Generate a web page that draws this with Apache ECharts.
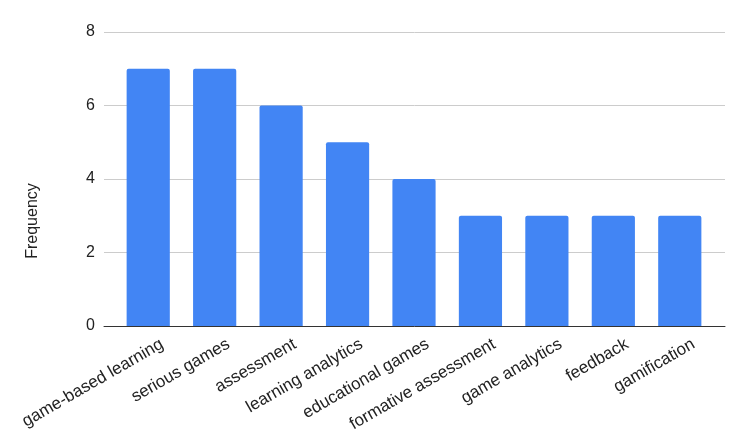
<!DOCTYPE html>
<html>
<head>
<meta charset="utf-8">
<script src="https://cdn.jsdelivr.net/npm/echarts@6/dist/echarts.min.js"></script>
<style>
  html, body { margin: 0; padding: 0; background: #fff; }
  #chart { width: 747px; height: 446px; }
</style>
</head>
<body>
<div id="chart"></div>
<script>
// keywords and how often each one appears
const categories = [
    "game-based learning", "serious games", "assessment", "learning analytics",
    "educational games", "formative assessment", "game analytics", "feedback", "gamification"
];
const frequency = [7, 7, 6, 5, 4, 3, 3, 3, 3];

const chart = echarts.init(document.getElementById("chart"));
chart.setOption({
    backgroundColor: "#ffffff",
    textStyle: { fontFamily: "Liberation Sans, Arial, sans-serif" },
    // grid 0 holds the bars, grid 1 only draws the wider gridlines / baseline
    grid: [
        { left: 115, right: 34, top: 32, bottom: 120 },
        { left: 104, right: 22, top: 32, bottom: 120 }
    ],
    xAxis: [
        {
            type: "category",
            gridIndex: 0,
            data: categories,
            axisLine: { show: false },
            axisTick: { show: false },
            axisLabel: {
                rotate: 30,
                interval: 0,
                color: "#222222",
                fontSize: 17,
                margin: 25,
                padding: [0, -16, 0, 0]
            }
        },
        {
            type: "value",
            gridIndex: 1,
            min: 0,
            max: 1,
            axisLine: { lineStyle: { color: "#333333", width: 1 } },
            axisTick: { show: false },
            axisLabel: { show: false },
            splitLine: { show: false }
        }
    ],
    yAxis: [
        {
            type: "value",
            gridIndex: 0,
            min: 0,
            max: 8,
            interval: 2,
            axisLine: { show: false },
            axisTick: { show: false },
            axisLabel: { show: false },
            splitLine: { show: false }
        },
        {
            type: "value",
            gridIndex: 1,
            min: 0,
            max: 8,
            interval: 2,
            name: "Frequency",
            nameLocation: "middle",
            nameGap: 63,
            nameTextStyle: { color: "#222222", fontSize: 16, padding: [0, 84, 0, 0] },
            axisLine: { show: false },
            axisTick: { show: false },
            axisLabel: { color: "#222222", fontSize: 16, margin: 9 },
            splitLine: { lineStyle: { color: "#cccccc" } }
        }
    ],
    series: [{
        type: "bar",
        xAxisIndex: 0,
        yAxisIndex: 0,
        data: frequency,
        barCategoryGap: "35%",
        z: 3,
        itemStyle: { color: "#4285f4", borderRadius: [2, 2, 0, 0] }
    }]
});
</script>
</body>
</html>
